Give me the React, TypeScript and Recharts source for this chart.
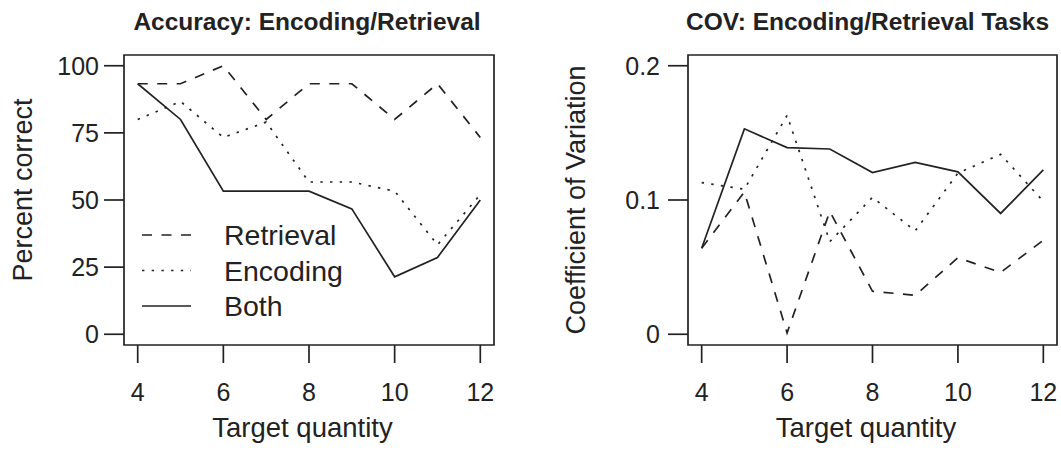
import { LineChart, Line, XAxis, YAxis, ReferenceArea } from "recharts";

// ── Data ─────────────────────────────────────────────────────────────

const TARGETS = [4, 5, 6, 7, 8, 9, 10, 11, 12];

const ACC_RETRIEVAL = [93.3, 93.3, 100, 80, 93.3, 93.3, 80, 93.3, 73.3];
const ACC_ENCODING = [80, 86.7, 73.3, 79, 56.7, 56.7, 53.3, 33.3, 52];
const ACC_BOTH = [93.3, 80, 53.3, 53.3, 53.3, 46.7, 21.4, 28.6, 50];

const COV_RETRIEVAL = [0.064, 0.106, 0.001, 0.0915, 0.032, 0.029, 0.057, 0.046, 0.07];
const COV_ENCODING = [0.113, 0.108, 0.163, 0.069, 0.102, 0.077, 0.12, 0.134, 0.099];
const COV_BOTH = [0.064, 0.153, 0.139, 0.138, 0.1205, 0.128, 0.121, 0.09, 0.1225];

const X_TICKS = [4, 6, 8, 10, 12];
const ACC_TICKS = [0, 25, 50, 75, 100];
const COV_TICKS = [0, 0.1, 0.2];

// R-style 4% padding around the data range
const X_DOMAIN: [number, number] = [3.68, 12.32];
const ACC_DOMAIN: [number, number] = [-4, 104];
const COV_DOMAIN: [number, number] = [-0.008, 0.208];

// ── Styling ──────────────────────────────────────────────────────────

const INK = "#222";
const FONT = "'Liberation Sans', Arial, Helvetica, sans-serif";
const LW = 1.7;

const SERIES = [
  { key: "retrieval", name: "Retrieval", dash: "10 9.5" },
  { key: "encoding", name: "Encoding", dash: "2.4 7.3" },
  { key: "both", name: "Both", dash: undefined as string | undefined },
];

const accData = TARGETS.map((t, i) => ({
  target: t,
  retrieval: ACC_RETRIEVAL[i],
  encoding: ACC_ENCODING[i],
  both: ACC_BOTH[i],
}));

const covData = TARGETS.map((t, i) => ({
  target: t,
  retrieval: COV_RETRIEVAL[i],
  encoding: COV_ENCODING[i],
  both: COV_BOTH[i],
}));

const tickStyle = { fill: INK, fontSize: 25, fontFamily: FONT };

// ── Panel ────────────────────────────────────────────────────────────

interface PanelProps {
  data: any[];
  width: number;
  yWidth: number;
  right: number;
  yDomain: [number, number];
  yTicks: number[];
  yMargin: number;
}

function Panel({ data, width, yWidth, right, yDomain, yTicks, yMargin }: PanelProps) {
  return (
    <LineChart
      width={width}
      height={455}
      data={data}
      margin={{ top: 55, right, bottom: 0, left: 0 }}
    >
      <XAxis
        dataKey="target"
        type="number"
        domain={X_DOMAIN}
        ticks={X_TICKS}
        allowDataOverflow
        height={110}
        axisLine={false}
        tickSize={18}
        tickMargin={20}
        tickLine={{ stroke: INK, strokeWidth: LW }}
        tick={tickStyle}
      />
      <YAxis
        type="number"
        domain={yDomain}
        ticks={yTicks}
        allowDataOverflow
        width={yWidth}
        axisLine={false}
        tickSize={20}
        tickMargin={yMargin}
        tickLine={{ stroke: INK, strokeWidth: LW }}
        tick={tickStyle}
      />
      <ReferenceArea
        x1={X_DOMAIN[0]}
        x2={X_DOMAIN[1]}
        y1={yDomain[0]}
        y2={yDomain[1]}
        fill="none"
        stroke={INK}
        strokeWidth={LW}
      />
      {SERIES.map((s) => (
        <Line
          key={s.key}
          type="linear"
          dataKey={s.key}
          stroke={INK}
          strokeWidth={LW}
          strokeDasharray={s.dash}
          dot={false}
          activeDot={false}
          isAnimationActive={false}
        />
      ))}
    </LineChart>
  );
}

// ── Main ─────────────────────────────────────────────────────────────

export default function App() {
  return (
    <div style={{ position: "absolute", left: 0, top: 0, width: 1061, height: 455, background: "#fff" }}>
      <div style={{ position: "absolute", left: 0, top: 0 }}>
        <Panel data={accData} width={530} yWidth={124} right={36} yDomain={ACC_DOMAIN} yTicks={ACC_TICKS} yMargin={5} />
      </div>
      <div style={{ position: "absolute", left: 530, top: 0 }}>
        <Panel data={covData} width={531} yWidth={158} right={4} yDomain={COV_DOMAIN} yTicks={COV_TICKS} yMargin={8} />
      </div>

      {/* titles, axis labels and legend */}
      <svg
        width={1061}
        height={455}
        style={{ position: "absolute", left: 0, top: 0, pointerEvents: "none" }}
        fontFamily={FONT}
        fill={INK}
      >
        <text x={307} y={30} textAnchor="middle" fontSize={24.5} fontWeight="bold">
          Accuracy: Encoding/Retrieval
        </text>
        <text x={867.5} y={30} textAnchor="middle" fontSize={24.5} fontWeight="bold">
          COV: Encoding/Retrieval Tasks
        </text>

        <text x={302.5} y={437} textAnchor="middle" fontSize={27.5}>Target quantity</text>
        <text x={866} y={437} textAnchor="middle" fontSize={27.5}>Target quantity</text>

        <text transform="translate(32,190) rotate(-90)" textAnchor="middle" fontSize={27}>
          Percent correct
        </text>
        <text transform="translate(585,200) rotate(-90)" textAnchor="middle" fontSize={27}>
          Coefficient of Variation
        </text>

        {SERIES.map((s, i) => {
          const y = 235 + i * 35.5;
          return (
            <g key={s.key}>
              <line x1={142} x2={191} y1={y} y2={y} stroke={INK} strokeWidth={LW} strokeDasharray={s.dash} />
              <text x={224} y={y + 10} fontSize={28.5}>{s.name}</text>
            </g>
          );
        })}
      </svg>
    </div>
  );
}
